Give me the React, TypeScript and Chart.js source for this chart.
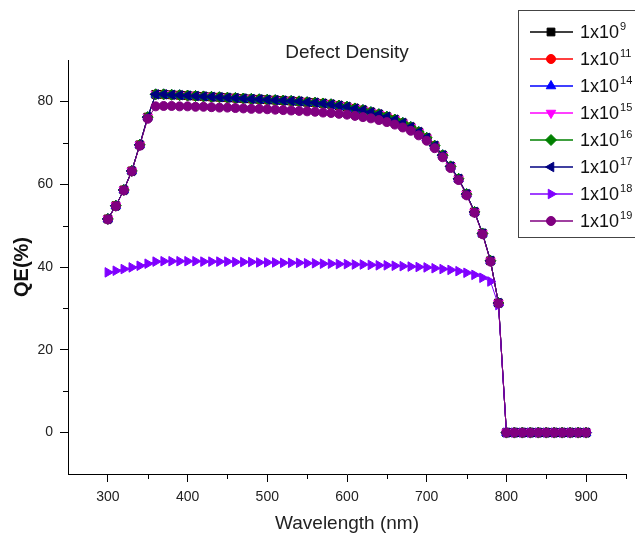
import React, { useEffect, useRef } from 'react';
import { Chart, registerables } from 'chart.js';
import { drawPoint } from 'chart.js/helpers';

Chart.register(...registerables);

const FONT = '"Liberation Sans", Arial, Helvetica, sans-serif';

// ---- data ----
const wavelengths = [
  300, 310, 320, 330, 340, 350, 360, 370, 380, 390,
  400, 410, 420, 430, 440, 450, 460, 470, 480, 490,
  500, 510, 520, 530, 540, 550, 560, 570, 580, 590,
  600, 610, 620, 630, 640, 650, 660, 670, 680, 690,
  700, 710, 720, 730, 740, 750, 760, 770, 780, 790,
  800, 810, 820, 830, 840, 850, 860, 870, 880, 890, 900,
];

// 1x10^9 ... 1x10^17 (curves overlap)
const qeLowDefect = [
  51.6, 54.8, 58.6, 63.2, 69.5, 76.2, 81.7, 81.7, 81.6, 81.5,
  81.4, 81.3, 81.2, 81.1, 81.0, 80.9, 80.8, 80.7, 80.6, 80.5,
  80.4, 80.3, 80.2, 80.1, 80.0, 79.8, 79.7, 79.5, 79.3, 79.0,
  78.7, 78.3, 77.9, 77.4, 76.9, 76.3, 75.6, 74.8, 73.8, 72.6,
  71.2, 69.3, 67.0, 64.3, 61.3, 57.6, 53.3, 48.1, 41.5, 31.3,
  0, 0, 0, 0, 0, 0, 0, 0, 0, 0, 0,
];

const qe1e18 = [
  38.7, 39.1, 39.5, 39.9, 40.3, 40.8, 41.3, 41.4, 41.4, 41.4,
  41.4, 41.4, 41.3, 41.3, 41.3, 41.3, 41.2, 41.2, 41.2, 41.1,
  41.1, 41.1, 41.0, 41.0, 41.0, 40.9, 40.9, 40.8, 40.8, 40.7,
  40.7, 40.6, 40.6, 40.5, 40.4, 40.4, 40.3, 40.2, 40.1, 40.0,
  39.9, 39.7, 39.5, 39.3, 39.0, 38.6, 38.1, 37.4, 36.5, 30.8,
  0, 0, 0, 0, 0, 0, 0, 0, 0, 0, 0,
];

const qe1e19 = [
  51.5, 54.7, 58.5, 63.1, 69.3, 75.8, 78.8, 78.9, 78.9, 78.8,
  78.8, 78.7, 78.7, 78.6, 78.5, 78.5, 78.4, 78.3, 78.2, 78.2,
  78.1, 78.0, 77.9, 77.8, 77.7, 77.6, 77.5, 77.3, 77.2, 77.0,
  76.8, 76.5, 76.2, 75.9, 75.5, 75.0, 74.4, 73.7, 72.9, 71.8,
  70.5, 68.7, 66.5, 63.9, 61.0, 57.3, 53.1, 47.9, 41.3, 31.2,
  0, 0, 0, 0, 0, 0, 0, 0, 0, 0, 0,
];

const legendBase = '1x10';
const exponents = ['9', '11', '14', '15', '16', '17', '18', '19'];
const seriesValues = [
  qeLowDefect, qeLowDefect, qeLowDefect, qeLowDefect,
  qeLowDefect, qeLowDefect, qe1e18, qe1e19,
];

const chartTitle = 'Defect Density';
const xTitle = 'Wavelength (nm)';
const yTitle = 'QE(%)';

// ---- styles ----
const colors = ['#000000', '#FF0000', '#0000FF', '#FF00FF', '#008000', '#000080', '#8000FF', '#800080'];
const pointStyles = ['rect', 'circle', 'triangle', 'triangle', 'rectRot', 'triangle', 'triangle', 'circle'];
const rotations = [0, 0, 0, 180, 0, -90, 90, 0];
const radii = [5.5, 4.5, 5.5, 5.5, 5.5, 5.5, 5.5, 4.5];

const decorPlugin = {
  id: 'decor',
  afterDraw(chart: any) {
    const ctx = chart.ctx as CanvasRenderingContext2D;
    const xs = chart.scales.x;
    const ys = chart.scales.y;
    const area = chart.chartArea;
    ctx.save();
    // minor ticks
    ctx.strokeStyle = '#000';
    ctx.lineWidth = 1;
    for (const t of xs.ticks) {
      if (t.value % 100 !== 0 && t.value > xs.min) {
        const px = Math.round(xs.getPixelForValue(t.value)) + 0.5;
        ctx.beginPath();
        ctx.moveTo(px, area.bottom);
        ctx.lineTo(px, area.bottom + 5);
        ctx.stroke();
      }
    }
    for (const t of ys.ticks) {
      if (t.value % 20 !== 0 && t.value > ys.min && t.value < ys.max) {
        const py = Math.round(ys.getPixelForValue(t.value)) + 0.5;
        ctx.beginPath();
        ctx.moveTo(area.left - 5, py);
        ctx.lineTo(area.left, py);
        ctx.stroke();
      }
    }
    // title
    ctx.fillStyle = '#222';
    ctx.font = `19px ${FONT}`;
    ctx.textAlign = 'center';
    ctx.textBaseline = 'middle';
    ctx.fillText(chartTitle, (area.left + area.right) / 2, 53);

    // legend
    const bx = 518.5, by = 10.5, bw = 140, bh = 227;
    ctx.fillStyle = '#fff';
    ctx.fillRect(bx, by, bw, bh);
    ctx.strokeStyle = '#444';
    ctx.lineWidth = 1;
    ctx.strokeRect(bx, by, bw, bh);
    const ds = chart.data.datasets;
    for (let i = 0; i < ds.length; i++) {
      const cy = 32 + i * 27;
      ctx.strokeStyle = colors[i];
      ctx.lineWidth = 1.5;
      ctx.beginPath();
      ctx.moveTo(530, cy);
      ctx.lineTo(573, cy);
      ctx.stroke();
      ctx.fillStyle = colors[i];
      ctx.strokeStyle = colors[i];
      ctx.lineWidth = 1;
      drawPoint(ctx, { pointStyle: pointStyles[i], rotation: rotations[i], radius: radii[i], borderWidth: 1 } as any, 551, cy);
      ctx.fillStyle = '#111';
      ctx.textAlign = 'left';
      ctx.textBaseline = 'alphabetic';
      ctx.font = `18px ${FONT}`;
      ctx.fillText(legendBase, 580, cy + 6.4);
      const w = ctx.measureText(legendBase).width;
      ctx.font = `11px ${FONT}`;
      ctx.fillText(exponents[i], 580 + w + 1, cy - 2.2);
    }
    ctx.restore();
  },
};

export default function App() {
  const canvasRef = useRef<HTMLCanvasElement | null>(null);

  useEffect(() => {
    if (!canvasRef.current) return;
    Chart.defaults.font.family = FONT;
    const datasets = seriesValues.map((vals, i) => ({
      label: legendBase + '^' + exponents[i],
      data: wavelengths.map((w, j) => ({ x: w, y: vals[j] })),
      borderColor: colors[i],
      backgroundColor: colors[i],
      borderWidth: 1,
      pointStyle: pointStyles[i],
      pointRotation: rotations[i],
      pointRadius: radii[i],
      pointBorderWidth: 1,
      pointBorderColor: colors[i],
      pointBackgroundColor: colors[i],
      tension: 0,
      order: seriesValues.length - 1 - i,
    }));
    const chart = new Chart(canvasRef.current, {
      type: 'line',
      data: { datasets } as any,
      options: {
        responsive: false,
        animation: false,
        layout: { padding: { top: 60, right: 9, left: 0, bottom: 0 } },
        plugins: {
          legend: { display: false },
          title: { display: false },
          tooltip: { enabled: false },
        },
        scales: {
          x: {
            type: 'linear',
            min: 250,
            max: 950,
            afterFit: (s: any) => { s.height = 60; },
            ticks: {
              stepSize: 50,
              autoSkip: false,
              maxRotation: 0,
              padding: 7,
              color: '#222',
              font: { size: 14 },
              callback: (v: any) => (Number(v) % 100 === 0 ? String(v) : ''),
            },
            grid: {
              display: true,
              drawOnChartArea: false,
              drawTicks: true,
              tickLength: 8,
              tickWidth: 1,
              tickColor: (c: any) => (c.tick && c.tick.value % 100 === 0 ? '#000' : 'rgba(0,0,0,0)'),
            },
            border: { display: true, color: '#000', width: 1 },
            title: {
              display: true,
              text: xTitle,
              color: '#222',
              font: { size: 19, lineHeight: 1.1 },
              padding: { top: 0, bottom: 0 },
            },
          },
          y: {
            type: 'linear',
            min: -10,
            max: 90,
            afterFit: (s: any) => { s.width = 68; },
            ticks: {
              stepSize: 10,
              autoSkip: false,
              padding: 7,
              color: '#222',
              font: { size: 14 },
              callback: (v: any) => (Number(v) % 20 === 0 ? String(v) : ''),
            },
            grid: {
              display: true,
              drawOnChartArea: false,
              drawTicks: true,
              tickLength: 8,
              tickWidth: 1,
              tickColor: (c: any) => (c.tick && c.tick.value % 20 === 0 ? '#000' : 'rgba(0,0,0,0)'),
            },
            border: { display: true, color: '#000', width: 1 },
            title: {
              display: true,
              text: yTitle,
              color: '#111',
              font: { size: 20, weight: 'bold' },
              padding: { top: 10, bottom: 0 },
            },
          },
        },
      } as any,
      plugins: [decorPlugin],
    });
    return () => chart.destroy();
  }, []);

  return (
    <div style={{ position: 'fixed', left: 0, top: 0, width: 635, height: 534, background: '#fff' }}>
      <canvas ref={canvasRef} width={635} height={534} style={{ display: 'block', width: 635, height: 534 }} />
    </div>
  );
}
